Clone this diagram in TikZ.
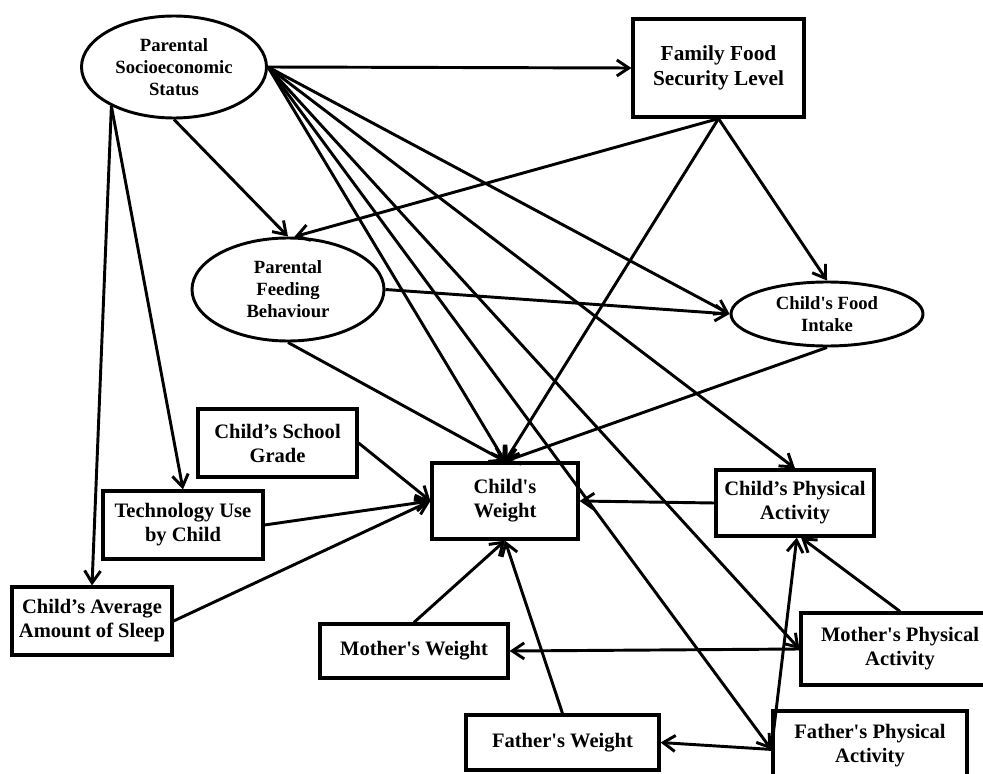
\documentclass[tikz,border=0pt]{standalone}
\usepackage{fontspec}
\setmainfont{Liberation Serif}
\usetikzlibrary{arrows.meta,shapes.geometric}
\begin{document}
\begin{tikzpicture}[x=0.75pt,y=-0.75pt,
  box/.style={draw,line width=2.4pt,inner sep=0pt,align=center,font=\fontsize{15.4}{18}\selectfont\bfseries},
  oval/.style={draw,ellipse,line width=2.2pt,inner sep=0pt,align=center,font=\fontsize{14}{16.5}\selectfont\bfseries},
  arr/.style={line width=2.2pt,-{Straight Barb[length=9pt,width=12pt]}},
]
\useasboundingbox (0,0) rectangle (983,774);
\node[oval,minimum width=138.75pt,minimum height=76.5pt] (pss) at (174,67) {Parental\\Socioeconomic\\Status};
\node[box,minimum width=128.25pt,minimum height=73.5pt,font=\fontsize{16}{18.5}\selectfont\bfseries] (ffs) at (718.5,68) {Family Food\\Security Level};
\node[oval,minimum width=144pt,minimum height=77.25pt] (pfb) at (288,289.5) {Parental\\Feeding\\Behaviour};
\node[oval,minimum width=144pt,minimum height=48pt] (fi) at (827,314) {Child\textquotesingle s Food\\Intake};
\node[box,minimum width=119.25pt,minimum height=51pt] (csg) at (277.5,443) {Child’s School\\Grade};
\node[box,minimum width=120pt,minimum height=51pt] (tech) at (183,525) {Technology Use\\by Child};
\node[box,minimum width=120pt,minimum height=51pt] (sleep) at (92,621) {Child’s Average\\Amount of Sleep};
\node[box,minimum width=109.5pt,minimum height=57pt] (cw) at (505,501) {Child\textquotesingle s\\Weight};
\node[box,minimum width=118.5pt,minimum height=49.5pt] (cpa) at (795,503) {Child’s Physical\\Activity};
\node[box,minimum width=141pt,minimum height=40.5pt] (mw) at (414,651) {Mother\textquotesingle s Weight};
\node[box,minimum width=144.75pt,minimum height=41.25pt] (fw) at (562.5,742.5) {Father\textquotesingle s Weight};
\node[box,minimum width=148.5pt,minimum height=54pt] (mpa) at (900,649) {Mother\textquotesingle s Physical\\Activity};
\node[box,minimum width=145.5pt,minimum height=52.5pt] (fpa) at (870,746) {Father\textquotesingle s Physical\\Activity};

\draw[arr] (pss.east) -- (ffs.west);
\draw[arr] (pss.east) -- (fi.west);
\draw[arr] (pss.east) -- (cpa.north);
\draw[arr] (pss.east) -- (mpa.west);
\draw[arr] (pss.east) -- (fpa.182);
\draw[arr] (pss.east) -- (cw.north);
\draw[arr] (pss.south) -- (pfb.north);
\draw[arr] (pss.212) -- (tech.north);
\draw[arr] (pss.212) -- (sleep.north);
\draw[arr] (ffs.south) -- (pfb.83);
\draw[arr] (ffs.south) -- (cw.north);
\draw[arr] (ffs.south) -- (fi.north);
\draw[arr] (pfb.east) -- (fi.west);
\draw[arr] (pfb.south) -- (cw.north);
\draw[arr] (fi.south) -- (cw.north);
\draw[arr] (csg.east) -- (cw.west);
\draw[arr] (tech.east) -- (cw.west);
\draw[arr] (sleep.east) -- (cw.west);
\draw[arr] (cpa.west) -- (cw.east);
\draw[arr] (mw.north) -- (cw.south);
\draw[arr] (fw.north) -- (cw.south);
\draw[arr] (mpa.west) -- (mw.east);
\draw[arr] (fpa.182) -- (fw.east);
\draw[arr] (fpa.182) -- (cpa.-87);
\draw[arr] (mpa.north) -- (cpa.-80);
\end{tikzpicture}
\end{document}
